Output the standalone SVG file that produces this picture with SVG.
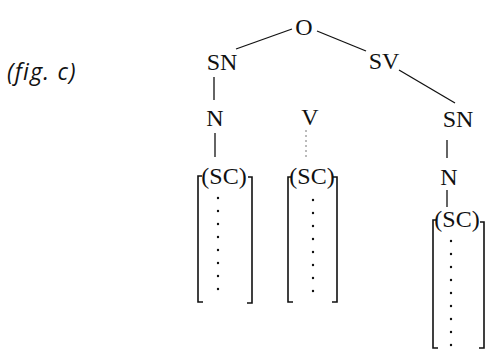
<svg xmlns="http://www.w3.org/2000/svg" width="489" height="351" viewBox="0 0 489 351">
<style>
.t{font-family:"Liberation Serif","Times New Roman",serif;font-size:24px;fill:#111;text-anchor:middle}
.cap{font-family:"Open Sans","DejaVu Sans",sans-serif;font-style:italic;font-size:23px;letter-spacing:1.2px;fill:#111}
.ln{stroke:#111;stroke-width:1.3;fill:none}
.br{stroke:#111;stroke-width:1.6;fill:none}
.dt{stroke:#111;stroke-width:2.4;fill:none;stroke-linecap:round;stroke-dasharray:0 13}
.dv{stroke:#777;stroke-width:1;fill:none;stroke-dasharray:2 3}
</style>
<rect width="489" height="351" fill="#fff"/>
<text class="cap" x="7" y="80">(fig. c)</text>
<g id="connectors">
<line class="ln" x1="236" y1="49" x2="292" y2="29"/>
<line class="ln" x1="317" y1="31" x2="366" y2="51"/>
<line class="ln" x1="399" y1="70" x2="455" y2="103"/>
<line class="ln" x1="214" y1="77" x2="214" y2="100"/>
<line class="ln" x1="215" y1="133" x2="215" y2="157"/>
<line class="dv" x1="306" y1="130" x2="306" y2="160"/>
<line class="ln" x1="447" y1="140" x2="447" y2="158"/>
<line class="ln" x1="447" y1="190" x2="447" y2="207"/>
</g>
<g id="O"><text class="t" x="304" y="35">O</text></g>
<g id="SN1"><text class="t" x="222" y="70">SN</text></g>
<g id="SV"><text class="t" x="384" y="69">SV</text></g>
<g id="N1"><text class="t" x="215" y="126">N</text></g>
<g id="V"><text class="t" x="310" y="125">V</text></g>
<g id="SN2"><text class="t" x="458" y="127">SN</text></g>
<g id="N2"><text class="t" x="449" y="185">N</text></g>
<g id="SC1">
<text class="t" x="224" y="184">(SC)</text>
<path class="br" d="M202,176 H198 V302 H203"/>
<path class="br" d="M248,177 H252 V303 H247"/>
<line class="dt" x1="218" y1="198" x2="218" y2="292"/>
</g>
<g id="SC2">
<text class="t" x="312" y="184">(SC)</text>
<path class="br" d="M292,177 H288 V302 H293"/>
<path class="br" d="M333,177 H337 V302 H332"/>
<line class="dt" x1="313" y1="200" x2="313" y2="294"/>
</g>
<g id="SC3">
<text class="t" x="457" y="227">(SC)</text>
<path class="br" d="M437,220 H433 V348 H438"/>
<path class="br" d="M480,222 H484 V348 H479"/>
<line class="dt" x1="451" y1="241" x2="451" y2="347"/>
</g>
</svg>
